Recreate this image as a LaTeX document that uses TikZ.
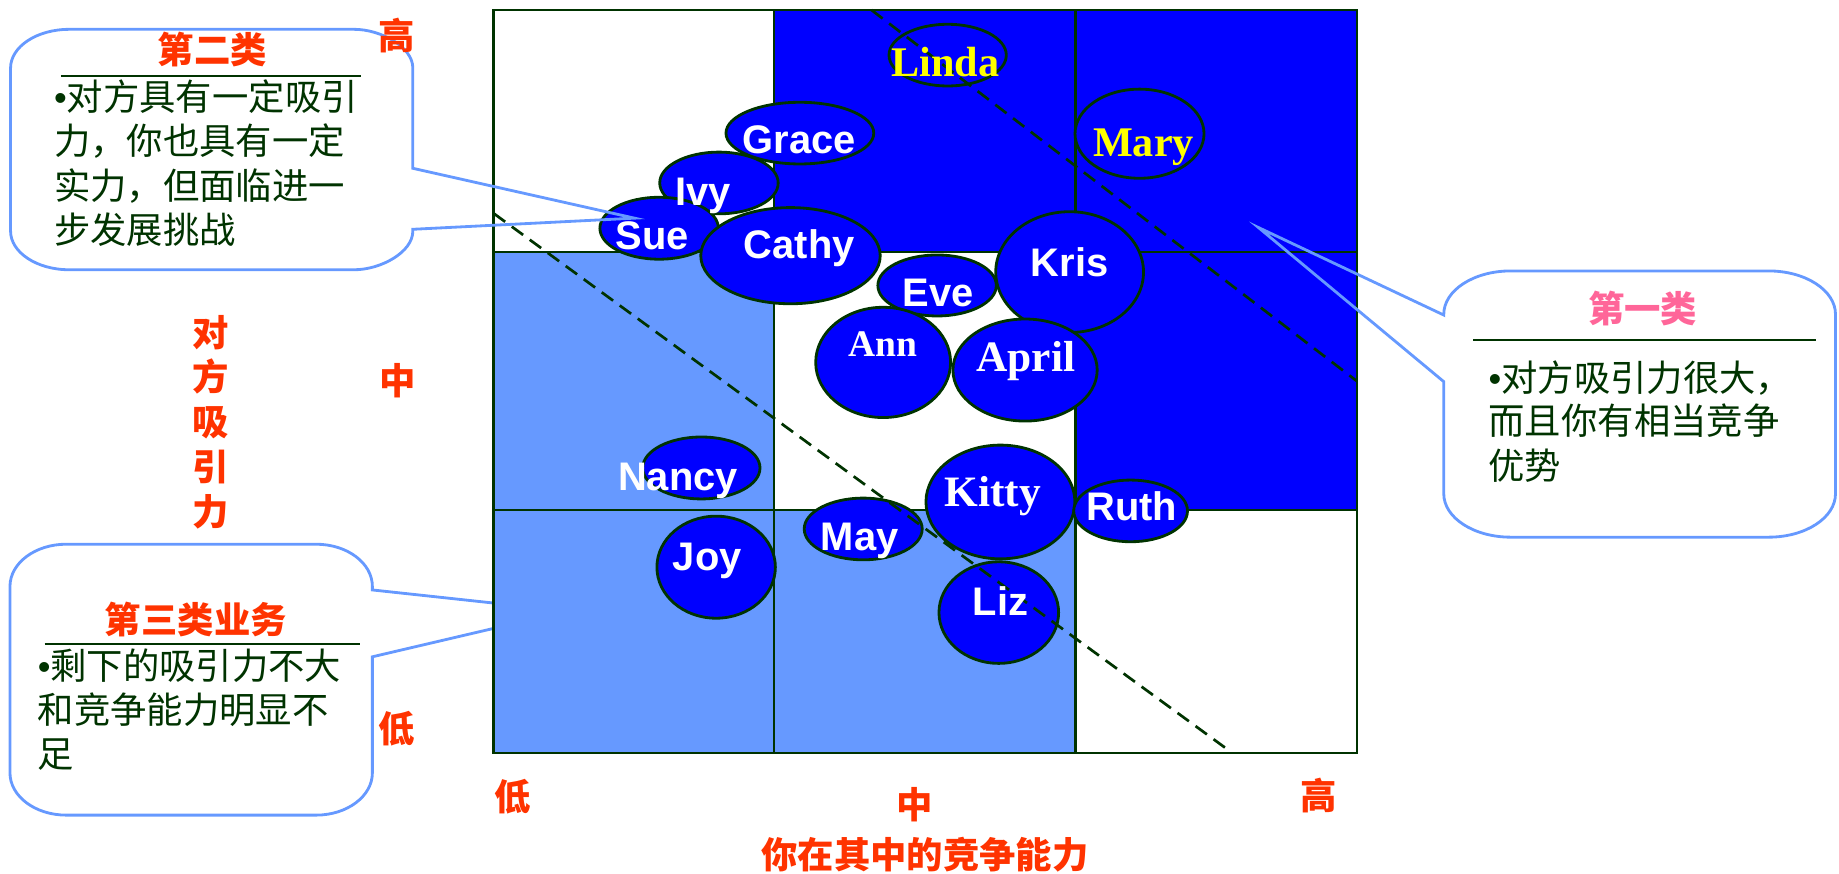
\documentclass[tikz,border=0pt]{standalone}
\usepackage{fontspec}
\setmainfont{Liberation Serif}
\newfontfamily\sansf{Liberation Sans}
\newfontfamily\cjk{Noto Sans CJK SC}
\usetikzlibrary{shapes.geometric}
\definecolor{dkgreen}{RGB}{0,51,0}
\definecolor{redor}{RGB}{255,51,0}
\definecolor{pinkt}{RGB}{255,102,153}
\definecolor{ltblue}{RGB}{102,153,255}
\definecolor{dblue}{RGB}{0,0,255}
\definecolor{yel}{RGB}{255,255,0}
\newcommand{\bul}{{\sansf •}}
\begin{document}
\begin{tikzpicture}[x=1pt,y=-1pt,
  gridline/.style={draw=dkgreen, line width=2pt},
  outerline/.style={draw=dkgreen, line width=2.4pt},
  person/.style={ellipse, draw=dkgreen, line width=2.4pt, fill=dblue, inner sep=0pt},
  sname/.style={anchor=base, text=white, font=\sansf\bfseries\fontsize{34}{40}\selectfont, inner sep=0pt},
  rname/.style={anchor=base, text=white, font=\bfseries\fontsize{36}{42}\selectfont, inner sep=0pt},
  divline/.style={draw=dkgreen, line width=2.3pt, dash pattern=on 12pt off 7pt},
  callout/.style={draw=ltblue, line width=2.4pt},
  boxfill/.style={fill=white},
  sepline/.style={draw=dkgreen, line width=2pt},
  ctitle/.style={anchor=base, font=\cjk\bfseries\fontsize{31}{38}\selectfont, inner sep=0pt},
  cbody/.style={anchor=base west, text=dkgreen, font=\cjk\fontsize{31}{38}\selectfont, inner sep=0pt},
  axislab/.style={anchor=base, text=redor, font=\cjk\bfseries\fontsize{31}{38}\selectfont, inner sep=0pt}
]
\useasboundingbox (0,0) rectangle (1568,745);

% ---- callout 3 (pointer hidden under the grid)
\coordinate (tip3) at (484,521);
\path[boxfill] (317.5,500) -- (317.5,659)
  .. controls (317.5,678.9) and (296,695) .. (269.5,695) -- (56.5,695)
  .. controls (30,695) and (8.5,678.9) .. (8.5,659) -- (8.5,500)
  .. controls (8.5,480.1) and (30,464) .. (56.5,464) -- (269.5,464)
  .. controls (296,464) and (317.5,480.1) .. (317.5,500) -- cycle;
\path[callout] (317.5,503) -- (tip3) -- (317.5,560) -- (317.5,659)
  .. controls (317.5,678.9) and (296,695) .. (269.5,695) -- (56.5,695)
  .. controls (30,695) and (8.5,678.9) .. (8.5,659) -- (8.5,500)
  .. controls (8.5,480.1) and (30,464) .. (56.5,464) -- (269.5,464)
  .. controls (296,464) and (317.5,480.1) .. (317.5,500) -- cycle;

% ---- grid
\fill[ltblue] (421,215) rectangle (660,642);
\fill[ltblue] (660,435) rectangle (917,642);
\fill[dblue] (660,8.5) rectangle (1157,215);
\fill[dblue] (917,215) rectangle (1157,435);
\draw[gridline] (660,8.5) -- (660,642);
\draw[gridline] (917,8.5) -- (917,642);
\draw[gridline] (421,215) -- (1157,215);
\draw[gridline] (421,435) -- (1157,435);
\draw[outerline] (421,8.5) rectangle (1157,642);

% ---- ellipses
\node[person, minimum width=100pt, minimum height=52.6pt] (linda) at (808,47) {};
\node[person, minimum width=126pt, minimum height=52.6pt] (grace) at (682,113.5) {};
\node[person, minimum width=101pt, minimum height=52.6pt] (ivy) at (613,156) {};
\node[person, minimum width=101pt, minimum height=52.8pt] (sue) at (562,194.6) {};
\node[person, minimum width=153pt, minimum height=82pt] (cathy) at (674,218) {};
\node[person, minimum width=110pt, minimum height=76pt] (mary) at (971.6,114) {};
\node[person, minimum width=126pt, minimum height=103pt] (kris) at (912,232) {};
\node[person, minimum width=101pt, minimum height=52pt] (eve) at (799,243.4) {};
\node[person, minimum width=115pt, minimum height=94pt] (ann) at (753,309) {};
\node[person, minimum width=123pt, minimum height=87pt] (april) at (874,315.5) {};
\node[person, minimum width=100pt, minimum height=52.8pt] (nancy) at (598,399) {};
\node[person, minimum width=127pt, minimum height=97pt] (kitty) at (853,428) {};
\node[person, minimum width=97pt, minimum height=52.6pt] (ruth) at (964,435.6) {};
\node[person, minimum width=100.6pt, minimum height=52.6pt] (may) at (736,451) {};
\node[person, minimum width=101pt, minimum height=87pt] (joy) at (610.6,483.6) {};
\node[person, minimum width=102pt, minimum height=86.6pt] (liz) at (851.6,522.3) {};

% ---- dashed dividers
\coordinate (d1a) at (743,8.5);
\coordinate (d1b) at (1157,325);
\coordinate (d2a) at (421,182);
\coordinate (d2b) at (1048,640);
\draw[divline] (d1a) -- (d1b);
\draw[divline] (d2a) -- (d2b);

% ---- names
\node[rname, text=yel] (tlinda) at (806,65.4) {Linda};
\node[sname] (tgrace) at (681.5,131.3) {Grace};
\node[sname] (tivy) at (599.7,175) {Ivy};
\node[sname] (tsue) at (556,213) {Sue};
\node[sname] (tcathy) at (681.5,220) {Cathy};
\node[rname, text=yel] (tmary) at (975,133.6) {Mary};
\node[sname] (tkris) at (912,236) {Kris};
\node[sname] (teve) at (800,261.5) {Eve};
\node[rname, font=\bfseries\fontsize{32}{38}\selectfont] (tann) at (752.5,303.6) {Ann};
\node[rname, font=\bfseries\fontsize{37}{42}\selectfont] (tapril) at (874.6,317) {April};
\node[sname] (tnancy) at (578,418) {Nancy};
\node[rname, font=\bfseries\fontsize{37}{42}\selectfont] (tkitty) at (846.5,432) {Kitty};
\node[sname] (truth) at (965,443.4) {Ruth};
\node[sname] (tmay) at (733,469) {May};
\node[sname] (tjoy) at (603,486) {Joy};
\node[sname] (tliz) at (853,524.4) {Liz};

% ---- callout 1
\coordinate (tip1) at (541,186);
\path[boxfill] (352,197) -- (352,58)
  .. controls (352,39.8) and (324.4,25) .. (302,25) -- (59,25)
  .. controls (31.4,25) and (9,39.8) .. (9,58) -- (9,197)
  .. controls (9,215.2) and (31.4,230) .. (59,230) -- (302,230)
  .. controls (324.4,230) and (352,215.2) .. (352,197) -- cycle;
\path[callout] (352,143.5) -- (352,58)
  .. controls (352,39.8) and (324.4,25) .. (302,25) -- (59,25)
  .. controls (31.4,25) and (9,39.8) .. (9,58) -- (9,197)
  .. controls (9,215.2) and (31.4,230) .. (59,230) -- (302,230)
  .. controls (324.4,230) and (352,215.2) .. (352,197) -- (352,195.5) -- (tip1) -- cycle;

% ---- callout 2
\coordinate (tip2) at (1073,194);
\path[boxfill] (1231,268) -- (1231,421)
  .. controls (1231,441.4) and (1256.5,458) .. (1288,458) -- (1508,458)
  .. controls (1539.5,458) and (1565,441.4) .. (1565,421) -- (1565,268)
  .. controls (1565,247.6) and (1539.5,231) .. (1508,231) -- (1288,231)
  .. controls (1256.5,231) and (1231,247.6) .. (1231,268) -- cycle;
\path[callout] (1231,268.6) -- (tip2) -- (1231,325.4) -- (1231,421)
  .. controls (1231,441.4) and (1256.5,458) .. (1288,458) -- (1508,458)
  .. controls (1539.5,458) and (1565,441.4) .. (1565,421) -- (1565,268)
  .. controls (1565,247.6) and (1539.5,231) .. (1508,231) -- (1288,231)
  .. controls (1256.5,231) and (1231,247.6) .. (1231,268) -- cycle;

% ---- callout texts
\node[ctitle, text=redor] (t2) at (181,54.5) {第二类};
\draw[sepline] (52,65) -- (308,65);
\node[cbody] (b2a) at (46,94) {\bul 对方具有一定吸引};
\node[cbody] (b2b) at (46,132) {力，你也具有一定};
\node[cbody] (b2c) at (46,170) {实力，但面临进一};
\node[cbody] (b2d) at (46,207.5) {步发展挑战};

\node[ctitle, text=pinkt] (t1) at (1400.6,274.8) {第一类};
\draw[sepline] (1256,290) -- (1548,290);
\node[cbody] (b1a) at (1269,334) {\bul 对方吸引力很大，};
\node[cbody] (b1b) at (1269,370.5) {而且你有相当竞争};
\node[cbody] (b1c) at (1269,408.5) {优势};

\node[ctitle, text=redor] (t3) at (167,539.8) {第三类业务};
\draw[sepline] (38,549) -- (307,549);
\node[cbody] (b3a) at (32,579.5) {\bul 剩下的吸引力不大};
\node[cbody] (b3b) at (32,617) {和竞争能力明显不};
\node[cbody] (b3c) at (32,654.5) {足};

% ---- axis labels
\node[axislab] (yhigh) at (338.6,41.8) {高};
\node[axislab] (ymid) at (339,336.3) {中};
\node[axislab] (ylow) at (338.6,632.8) {低};
\node[axislab] (ya) at (180,295.3) {对};
\node[axislab] (yb) at (180,332.8) {方};
\node[axislab] (yc) at (180,371.2) {吸};
\node[axislab] (yd) at (180,409.8) {引};
\node[axislab] (ye) at (180,447.8) {力};
\node[axislab] (xlow) at (437,690.8) {低};
\node[axislab] (xmid) at (780,697.8) {中};
\node[axislab] (xhigh) at (1124,689.8) {高};
\node[axislab] (xtitle) at (788.6,740.8) {你在其中的竞争能力};
\end{tikzpicture}
\end{document}
